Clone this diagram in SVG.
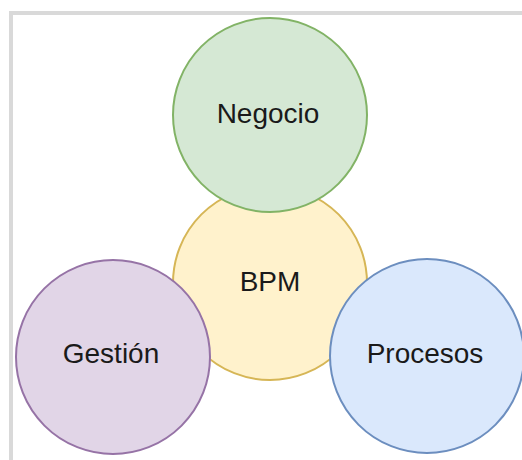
<svg xmlns="http://www.w3.org/2000/svg" width="522" height="460" viewBox="0 0 522 460">
<style>
.c{stroke-width:2}
.t{font-family:"Liberation Sans",Arial,sans-serif;font-size:28px;fill:#1a1a1a;text-anchor:middle}
</style>
<rect x="0" y="0" width="522" height="460" fill="#ffffff"/>
<rect x="11" y="13" width="700" height="700" fill="none" stroke="#d9d9d9" stroke-width="4"/>
<g id="connectors"/>
<g id="bpm">
<circle class="c" cx="270" cy="283" r="97" fill="#fff2cc" stroke="#d6b656"/>
<text class="t" x="270" y="291">BPM</text>
</g>
<g id="negocio">
<circle class="c" cx="270" cy="115" r="97" fill="#d5e8d4" stroke="#82b366"/>
<text class="t" x="268" y="123">Negocio</text>
</g>
<g id="gestion">
<circle class="c" cx="113" cy="357" r="97" fill="#e1d5e7" stroke="#9673a6"/>
<text class="t" x="111" y="363">Gestión</text>
</g>
<g id="procesos">
<circle class="c" cx="427" cy="356" r="97" fill="#dae8fc" stroke="#6c8ebf"/>
<text class="t" x="425" y="363">Procesos</text>
</g>
</svg>
